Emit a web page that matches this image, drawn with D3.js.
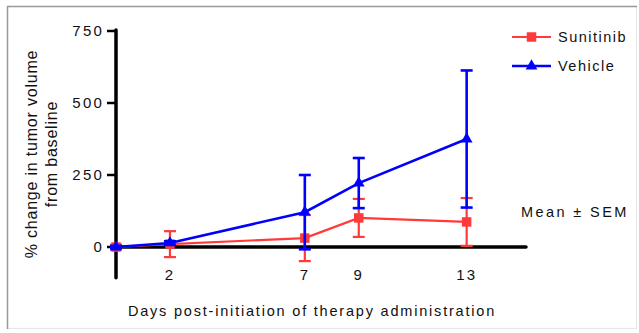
<!DOCTYPE html>
<html>
<head>
<meta charset="utf-8">
<script src="https://cdn.jsdelivr.net/npm/d3@7"></script>
<style>
  body { margin: 0; background: #fff; }
  text { font-family: "Liberation Sans", Arial, sans-serif; fill: #111; }
</style>
</head>
<body>
<div id="chart"></div>
<script>
// --- Data ---
const days = [0, 2, 7, 9, 13];
const sunitinibMean = [0, 10, 31, 101, 87];
const sunitinibSem = [8, 45, 80, 66, 83];
const vehicleMean = [0, 14, 121, 222, 375];
const vehicleSem = [4, 6, 129, 87, 238];
const xTickLabels = [2, 7, 9, 13];
const yTickLabels = [0, 250, 500, 750];

const W = 639, H = 333;
const svg = d3.select('#chart').append('svg')
  .attr('width', W).attr('height', H);

// frame
svg.append('rect').attr('x', 7.5).attr('y', 6.5)
  .attr('width', 629).attr('height', 322)
  .attr('fill', 'none').attr('stroke', '#e6e6e6');
svg.append('path').attr('d', 'M7.5,329V6.5H637')
  .attr('fill', 'none').attr('stroke', '#999').attr('stroke-width', 1.5);

// --- Scales ---
const x = d3.scaleLinear().domain([0, 15.2]).range([116, 526]);
const y = d3.scaleLinear().domain([0, 750]).range([247, 31]);
const yBottom = y(-107);

// --- Axes ---
const axisG = svg.append('g');
axisG.append('line')
  .attr('x1', x(0)).attr('x2', x(0))
  .attr('y1', y(750) - 1).attr('y2', yBottom)
  .attr('stroke', '#000').attr('stroke-width', 3.5).attr('stroke-linecap', 'round');
axisG.append('line')
  .attr('x1', x(0)).attr('x2', x(15.2))
  .attr('y1', y(0)).attr('y2', y(0))
  .attr('stroke', '#000').attr('stroke-width', 3.5).attr('stroke-linecap', 'round');

// y ticks
const yt = axisG.selectAll('.yt').data(yTickLabels).enter().append('g')
  .attr('transform', d => `translate(0,${y(d)})`);
yt.append('line').attr('x1', 107).attr('x2', x(0))
  .attr('stroke', '#000').attr('stroke-width', 2.5);
yt.append('text').attr('x', 104).attr('dy', '0.35em')
  .attr('text-anchor', 'end').attr('font-size', 15)
  .attr('letter-spacing', 2.2).text(d => d);

// x tick labels (no tick marks)
axisG.selectAll('.xt').data(xTickLabels).enter().append('text')
  .attr('x', d => x(d)).attr('y', 280)
  .attr('text-anchor', 'middle').attr('font-size', 15)
  .attr('letter-spacing', 2).text(d => d);

// axis titles
svg.append('text').attr('x', 312).attr('y', 316)
  .attr('text-anchor', 'middle').attr('font-size', 14.5)
  .attr('letter-spacing', 1.8)
  .text('Days post-initiation of therapy administration');

const yTitle = svg.append('text')
  .attr('transform', 'translate(37,154) rotate(-90)')
  .attr('text-anchor', 'middle').attr('font-size', 16)
  .attr('letter-spacing', 0.8);
yTitle.append('tspan').attr('x', 0).attr('dy', 0).text('% change in tumor volume');
yTitle.append('tspan').attr('x', 0).attr('dy', 20).text('from baseline');

// --- Series ---
const series = [
  { name: 'Sunitinib', mean: sunitinibMean, sem: sunitinibSem, color: '#ff3a3a', width: 2.2, marker: 'square' },
  { name: 'Vehicle', mean: vehicleMean, sem: vehicleSem, color: '#0000ff', width: 2.6, marker: 'triangle' }
];

const line = d3.line().x(d => x(d.day)).y(d => y(d.mean));
const capW = 6;

series.forEach(s => {
  const pts = days.map((d, i) => ({ day: d, mean: s.mean[i], sem: s.sem[i] }));
  const g = svg.append('g');
  // error bars
  const eb = g.selectAll('.eb').data(pts).enter().append('g');
  eb.append('line')
    .attr('x1', d => x(d.day)).attr('x2', d => x(d.day))
    .attr('y1', d => y(d.mean - d.sem)).attr('y2', d => y(d.mean + d.sem))
    .attr('stroke', s.color).attr('stroke-width', s.width);
  [-1, 1].forEach(sign => {
    eb.append('line')
      .attr('x1', d => x(d.day) - capW).attr('x2', d => x(d.day) + capW)
      .attr('y1', d => y(d.mean + sign * d.sem)).attr('y2', d => y(d.mean + sign * d.sem))
      .attr('stroke', s.color).attr('stroke-width', s.width);
  });
  g.append('path').datum(pts).attr('d', line)
    .attr('fill', 'none').attr('stroke', s.color).attr('stroke-width', s.width);
  const sym = s.marker === 'square'
    ? d3.symbol().type(d3.symbolSquare).size(90)
    : d3.symbol().type(d3.symbolTriangle).size(60);
  g.selectAll('.m').data(pts).enter().append('path')
    .attr('d', sym)
    .attr('transform', d => `translate(${x(d.day)},${y(d.mean)})`)
    .attr('fill', s.color);
});

// --- Legend ---
const lg = svg.append('g').selectAll('g').data(series).enter().append('g')
  .attr('transform', (d, i) => `translate(512,${37 + i * 29})`);
lg.append('line').attr('x1', 0).attr('x2', 39)
  .attr('stroke', d => d.color).attr('stroke-width', d => d.width);
lg.append('path')
  .attr('d', d => d.marker === 'square'
    ? d3.symbol().type(d3.symbolSquare).size(90)()
    : d3.symbol().type(d3.symbolTriangle).size(60)())
  .attr('transform', 'translate(19.5,0)')
  .attr('fill', d => d.color);
lg.append('text').attr('x', 46).attr('dy', '0.35em')
  .attr('font-size', 14.5).attr('letter-spacing', 1.5)
  .text(d => d.name);

svg.append('text').attr('x', 521).attr('y', 217)
  .attr('font-size', 14.5).attr('letter-spacing', 2.4)
  .text('Mean \u00b1 SEM');
</script>
</body>
</html>
